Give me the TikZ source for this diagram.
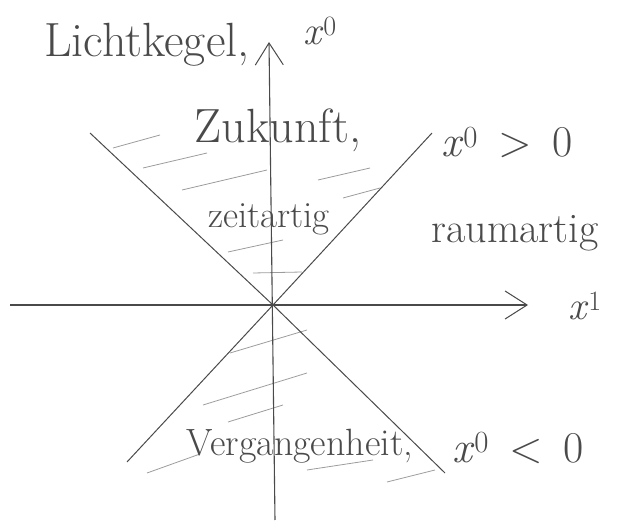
\documentclass[tikz,border=0pt]{standalone}
\usetikzlibrary{arrows.meta}
\definecolor{pencil}{HTML}{4A4A4A}
\definecolor{faint}{HTML}{9C9C9C}
\tikzset{
  every picture/.style={line width=1pt},
  axis/.style={draw=pencil, line width=1.1pt, -{Straight Barb[length=22pt, width=28pt, line width=1pt]}},
  cone/.style={draw=pencil, line width=1pt},
  hatch/.style={draw=faint, line width=0.8pt},
  lbl/.style={text=pencil, inner sep=0pt, anchor=base},
  big/.style={font=\fontsize{#1}{#1}\selectfont},
}
\newcommand{\cx}[1]{\textit{x}\textsuperscript{#1}}

\begin{document}
\begin{tikzpicture}[x=1pt, y=-1pt]
  \useasboundingbox (0,0) rectangle (625,524);
  \coordinate (O) at (273,305);
  \coordinate (tbot) at (275,520);
  \coordinate (ttop) at (269,42);
  \coordinate (xleft) at (10,305);
  \coordinate (xright) at (528,305);
  \coordinate (ul) at (90,133);
  \coordinate (ur) at (432,133);
  \coordinate (ll) at (127,462);
  \coordinate (lr) at (445,473);
  \foreach \a/\b/\c/\d in {113/148/160/135, 143/168/207/153, 182/190/267/170, 318/180/370/168,
      343/198/380/188, 228/252/283/240, 253/273/302/272, 230/353/307/330, 203/405/307/373,
      228/422/283/405, 147/473/200/454, 307/470/373/460, 387/482/435/470}
    \draw[hatch] (\a,\b) -- (\c,\d);
  \draw[cone] (ul) -- (O) -- (lr);
  \draw[cone] (ll) -- (O) -- (ur);
  \draw[axis] (tbot) -- (ttop);
  \draw[axis] (xleft) -- (xright);
  \node[lbl, big=48, anchor=base east] (title) at (250,57) {Lichtkegel,};
  \node[lbl, big=40] (tlabel) at (320,45) {\cx{0}};
  \node[lbl, big=40] (slabel) at (585,320) {\cx{1}};
  \node[lbl, big=48] (future) at (278,143) {Zukunft,};
  \node[lbl, big=37] (timelike) at (269,228) {zeitartig};
  \node[lbl, big=42] (spacelike) at (515,243) {raumartig};
  \node[lbl, big=38] (past) at (300,455) {Vergangenheit,};
  \node[lbl, big=44] (futcond) at (507,157) {\cx{0} \,>\, 0};
  \node[lbl, big=44] (pastcond) at (518,462) {\cx{0} \,<\, 0};
\end{tikzpicture}
\end{document}
